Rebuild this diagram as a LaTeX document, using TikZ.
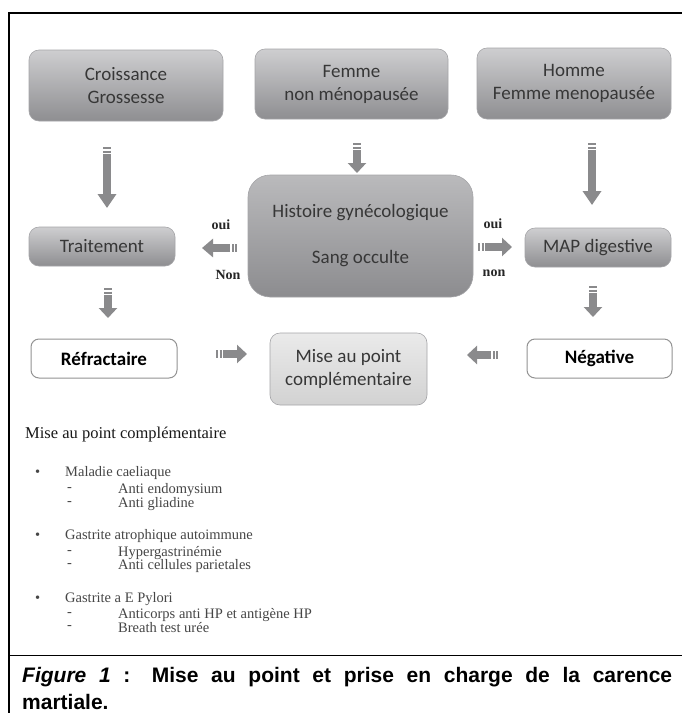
\documentclass[tikz,border=0pt]{standalone}
\usepackage{fontspec}
\setmainfont{Liberation Serif}
\newfontfamily\boxfont{Carlito}
\newfontfamily\capfont{Liberation Sans}
\usetikzlibrary{arrows.meta,calc}
\definecolor{boxtop}{RGB}{206,206,208}
\definecolor{boxbot}{RGB}{142,142,145}
\definecolor{histtop}{RGB}{186,186,188}
\definecolor{histbot}{RGB}{140,140,143}
\definecolor{boxedge}{RGB}{165,165,168}
\definecolor{misetop}{RGB}{234,234,234}
\definecolor{misebot}{RGB}{210,210,210}
\definecolor{boxtext}{RGB}{55,55,55}
\definecolor{arrowgray}{RGB}{138,138,140}
\definecolor{listgray}{RGB}{70,70,70}
\newcommand\blockarr[3][10pt]{%
  \draw[arrowgray, line width=8.5pt, -{Triangle[width=18pt,length=#1]}] ($(#2)!7pt!(#3)$) -- (#3);
  \draw[arrowgray, line width=8.5pt] (#2) -- ($(#2)!2pt!(#3)$);
  \draw[arrowgray, line width=8.5pt] ($(#2)!3.5pt!(#3)$) -- ($(#2)!5.5pt!(#3)$);
}
\begin{document}
\begin{tikzpicture}[x=1pt,y=-1pt,
  gbox/.style={draw=boxedge, line width=0.6pt, rounded corners=10pt, top color=boxtop, bottom color=boxbot,
    text=boxtext, font=\boxfont\fontsize{19}{23}\selectfont, align=center, inner sep=0pt},
  hbox/.style={gbox, top color=histtop, bottom color=histbot, rounded corners=22pt},
  wbox/.style={draw=gray!85, line width=1pt, rounded corners=8pt, fill=white, text=black,
    font=\boxfont\bfseries\fontsize{19}{23}\selectfont, inner sep=0pt},
  mbox/.style={gbox, top color=misetop, bottom color=misebot, rounded corners=10pt},
  yn/.style={font=\bfseries\fontsize{14}{16}\selectfont, text=black!85, inner sep=0pt},
  ltext/.style={anchor=west, inner sep=0pt, text=listgray, font=\fontsize{14.5}{16}\selectfont},
  lhead/.style={anchor=west, inner sep=0pt, text=black!90, font=\fontsize{16.5}{19}\selectfont},
  captxt/.style={anchor=west, inner sep=0pt, font=\capfont\bfseries\fontsize{21}{25}\selectfont}
]
\useasboundingbox (0,0) rectangle (682,713);
\fill[white] (0,0) rectangle (682,713);
% frame
\draw[line width=2pt] (9,713) -- (9,13) -- (682,13);
\draw[line width=1pt] (9,655) -- (682,655);

% boxes
\node[gbox, minimum width=194pt, minimum height=71pt] (croiss) at (126,85.5) {Croissance\\Grossesse};
\node[gbox, minimum width=193pt, minimum height=70pt] (femme) at (351.5,84) {Femme\\non ménopausée};
\node[gbox, minimum width=194pt, minimum height=71pt] (homme) at (574,83.5) {Homme\\Femme menopausée};
\node[hbox, minimum width=225pt, minimum height=122pt] (hist) at (360.5,236) {Histoire gynécologique\\[23pt]Sang occulte};
\node[gbox, minimum width=146pt, minimum height=39pt] (trait) at (102,246.5) {Traitement};
\node[gbox, minimum width=146pt, minimum height=39pt] (map) at (598,247.5) {MAP digestive};
\node[wbox, minimum width=146pt, minimum height=39pt] (refr) at (104,358.5) {Réfractaire};
\node[mbox, minimum width=157pt, minimum height=72pt] (mise) at (348.5,369) {Mise au point\\complémentaire};
\node[wbox, minimum width=145pt, minimum height=39pt] (neg) at (599.5,358.5) {Négative};

% arrow end points
\coordinate (a1s) at (107,147);  \coordinate (a1e) at (107,208);
\coordinate (a2s) at (357,143);  \coordinate (a2e) at (357,173);
\coordinate (a3s) at (592,143);  \coordinate (a3e) at (592,205);
\coordinate (a4s) at (237,248);  \coordinate (a4e) at (202,248);
\coordinate (a5s) at (478,247);  \coordinate (a5e) at (512,247);
\coordinate (a6s) at (108,288);  \coordinate (a6e) at (108,318);
\coordinate (a7s) at (593,286);  \coordinate (a7e) at (593,317);
\coordinate (a8s) at (216,354);  \coordinate (a8e) at (247,354);
\coordinate (a9s) at (498,355);  \coordinate (a9e) at (467,355);

\blockarr[14pt]{a1s}{a1e}
\blockarr{a2s}{a2e}
\blockarr[14pt]{a3s}{a3e}
\blockarr[11pt]{a4s}{a4e}
\blockarr{a5s}{a5e}
\blockarr{a6s}{a6e}
\blockarr{a7s}{a7e}
\blockarr{a8s}{a8e}
\blockarr{a9s}{a9e}

% oui / non labels
\node[yn] (oui1) at (221,225) {oui};
\node[yn] (non1) at (228,275) {Non};
\node[yn] (oui2) at (493,224) {oui};
\node[yn] (non2) at (494,273) {non};

% list
\node[lhead] (lh) at (25,435) {Mise au point complémentaire};
\node[ltext] (b1) at (35,473) {\textbullet};
\node[ltext] (i1) at (65,473) {Maladie caeliaque};
\node[ltext] (d11) at (67,490) {-};
\node[ltext] (s11) at (118,490) {Anti endomysium};
\node[ltext] (d12) at (67,504) {-};
\node[ltext] (s12) at (118,504) {Anti gliadine};
\node[ltext] (b2) at (35,536) {\textbullet};
\node[ltext] (i2) at (65,536) {Gastrite atrophique autoimmune};
\node[ltext] (d21) at (67,553) {-};
\node[ltext] (s21) at (118,553) {Hypergastrinémie};
\node[ltext] (d22) at (67,566) {-};
\node[ltext] (s22) at (118,566) {Anti cellules parietales};
\node[ltext] (b3) at (35,599) {\textbullet};
\node[ltext] (i3) at (65,599) {Gastrite a E Pylori};
\node[ltext] (d31) at (67,615) {-};
\node[ltext] (s31) at (118,615) {Anticorps anti HP et antigène HP};
\node[ltext] (d32) at (67,628) {-};
\node[ltext] (s32) at (118,628) {Breath test urée};

% caption
\node[captxt] (cap1) at (22,677) {\makebox[650pt][s]{\textit{Figure 1} : Mise au point et prise en charge de la carence}};
\node[captxt] (cap2) at (22,702) {martiale.};
\end{tikzpicture}
\end{document}
